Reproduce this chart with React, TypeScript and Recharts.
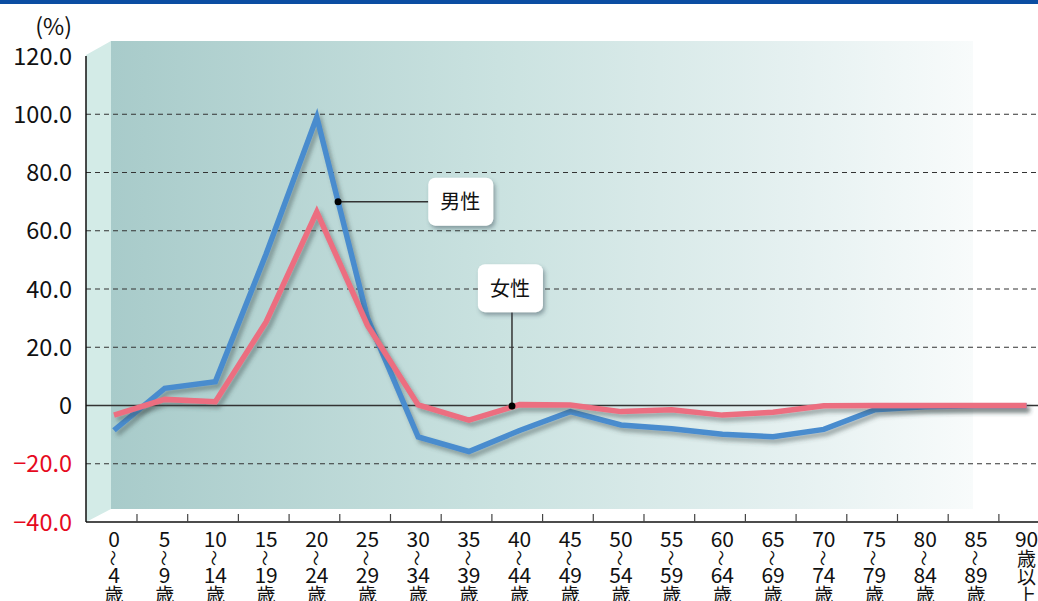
import React from 'react'
import {
  LineChart, Line, XAxis, YAxis, ReferenceLine, ReferenceDot,
} from 'recharts'

// age bands, each label split into its stacked rows
const AGE_FROM = ['0', '5', '10', '15', '20', '25', '30', '35', '40', '45', '50', '55', '60', '65', '70', '75', '80', '85', '90']
const AGE_TO = ['4', '9', '14', '19', '24', '29', '34', '39', '44', '49', '54', '59', '64', '69', '74', '79', '84', '89', '']

// change rate (%) by age band
const MALE = [-8.5, 5.9, 8.2, 52.0, 99.0, 30.0, -10.8, -15.8, -8.6, -2.1, -6.7, -8.0, -9.9, -10.7, -8.2, -1.5, -0.4, -0.1, -0.1]
const FEMALE = [-3.3, 2.1, 1.3, 28.7, 66.5, 27.5, 0.2, -5.0, 0.3, 0.2, -2.1, -1.5, -3.3, -2.3, -0.1, 0.0, 0.0, 0.0, 0.0]

const Y_TICKS = [-40, -20, 0, 20, 40, 60, 80, 100, 120]
const DASHED = [-20, 20, 40, 60, 80, 100]

const rows = AGE_FROM.map((from, i) => ({ i, from, to: AGE_TO[i], male: MALE[i], female: FEMALE[i] }))

const FONT = '"Noto Sans CJK JP", "Noto Sans", sans-serif'
const BLUE = '#4a8cce'
const PINK = '#ec6e80'

function YTick({ x, y, payload }: any) {
  const v = payload.value as number
  const txt = v === 0 ? '0' : v < 0 ? '\u2212' + Math.abs(v).toFixed(1) : v.toFixed(1)
  return (
    <text x={x - 14} y={y + 8.5} textAnchor="end" fontSize={23.5} fontFamily={FONT} fill={v < 0 ? '#e60a1e' : '#111'}>
      {txt}
    </text>
  )
}

function XTick({ x, y, payload }: any) {
  const r = rows[payload.value]
  if (!r) return null
  const last = payload.value === rows.length - 1
  const t = { textAnchor: 'middle' as const, fontSize: 21, fontFamily: FONT, fill: '#111' }
  return (
    <g>
      {!last && <line x1={x + 23} x2={x + 23} y1={y - 8} y2={y} stroke="#444" strokeWidth={1.2} />}
      <text x={x} y={y + 25} {...t}>{r.from}</text>
      {last ? (
        <>
          <text x={x} y={y + 44} {...t} fontSize={19}>歳</text>
          <text x={x} y={y + 62} {...t} fontSize={19}>以</text>
          <text x={x} y={y + 81} {...t} fontSize={19}>上</text>
        </>
      ) : (
        <>
          <text x={x} y={y + 36} {...t} fontSize={16} dominantBaseline="central" transform={`rotate(90 ${x} ${y + 36})`}>〜</text>
          <text x={x} y={y + 61} {...t}>{r.to}</text>
          <text x={x} y={y + 80} {...t} fontSize={19}>歳</text>
        </>
      )}
    </g>
  )
}

// white callout box centred on the reference point
function Callout(text: string) {
  return ({ cx, cy }: any) => (
    <g>
      <rect x={cx - 32} y={cy - 24} width={65} height={48} rx={7} fill="#fff" filter="url(#boxShadow)" />
      <text x={cx} y={cy + 7.5} textAnchor="middle" fontSize={20} fontFamily={FONT} fill="#111">{text}</text>
    </g>
  )
}

export default function App() {
  return (
    <div style={{ position: 'absolute', left: 0, top: 0, width: 1038, height: 601, background: '#fff', fontFamily: FONT }}>
      <div style={{ position: 'absolute', left: 0, top: 0, width: 1038, height: 4, background: '#0b4da2' }} />
      {/* back wall + side wall of the plot panel */}
      <svg width={1038} height={601} style={{ position: 'absolute', left: 0, top: 0 }}>
        <defs>
          <linearGradient id="wall" x1="0" x2="1" y1="0" y2="0">
            <stop offset="0%" stopColor="#a8cbca" />
            <stop offset="45%" stopColor="#cae2e0" />
            <stop offset="80%" stopColor="#e6f1f1" />
            <stop offset="100%" stopColor="#f8fbfb" />
          </linearGradient>
          <filter id="lineShadow" x="-5%" y="-5%" width="110%" height="120%">
            <feDropShadow dx={3} dy={4} stdDeviation={2.2} floodColor="#3a4a4a" floodOpacity={0.45} />
          </filter>
          <filter id="boxShadow" x="-20%" y="-20%" width="150%" height="150%">
            <feDropShadow dx={2} dy={3} stdDeviation={2} floodColor="#345" floodOpacity={0.45} />
          </filter>
        </defs>
        <rect x={111} y={41} width={862} height={468} fill="url(#wall)" />
        <polygon points="86,55 111,41 111,509 86,522" fill="#d3ebe7" />
        <text x={72} y={35} textAnchor="end" fontSize={23} fontFamily={FONT} fill="#111">(%)</text>
      </svg>
      <div style={{ position: 'absolute', left: 0, top: 0 }}>
        <LineChart width={1038} height={601} data={rows} margin={{ top: 56, right: 0, bottom: 0, left: 0 }}>
          <XAxis
            dataKey="i"
            type="number"
            domain={[-0.552, 18.225]}
            allowDataOverflow
            ticks={rows.map((r) => r.i)}
            interval={0}
            height={79}
            tickSize={0}
            tickMargin={0}
            tickLine={false}
            axisLine={{ stroke: '#111', strokeWidth: 1.5 }}
            tick={<XTick />}
          />
          <YAxis
            type="number"
            domain={[-40, 120]}
            ticks={Y_TICKS}
            interval={0}
            width={86}
            tickSize={0}
            tickMargin={0}
            tickLine={false}
            axisLine={{ stroke: '#111', strokeWidth: 1.5 }}
            tick={<YTick />}
          />
          {DASHED.map((v) => (
            <ReferenceLine key={v} y={v} stroke="#333" strokeWidth={1.2} strokeDasharray="5 4" />
          ))}
          <ReferenceLine y={0} stroke="#333" strokeWidth={1.5} />
          <Line dataKey="male" stroke={BLUE} strokeWidth={5.5} dot={false} strokeLinejoin="miter" filter="url(#lineShadow)" isAnimationActive={false} />
          <Line dataKey="female" stroke={PINK} strokeWidth={5.5} dot={false} strokeLinejoin="miter" filter="url(#lineShadow)" isAnimationActive={false} />
          {/* leaders for the series callouts */}
          <ReferenceLine segment={[{ x: 4.42, y: 70 }, { x: 6.2, y: 70 }]} stroke="#333" strokeWidth={1.5} />
          <ReferenceLine segment={[{ x: 7.85, y: -0.2 }, { x: 7.85, y: 32 }]} stroke="#333" strokeWidth={1.5} />
          <ReferenceDot x={4.42} y={70} r={3.5} fill="#000" stroke="none" />
          <ReferenceDot x={7.85} y={-0.2} r={3.5} fill="#000" stroke="none" />
          <ReferenceDot x={6.83} y={70} r={0} shape={Callout('男性')} />
          <ReferenceDot x={7.81} y={40.3} r={0} shape={Callout('女性')} />
        </LineChart>
      </div>
    </div>
  )
}
